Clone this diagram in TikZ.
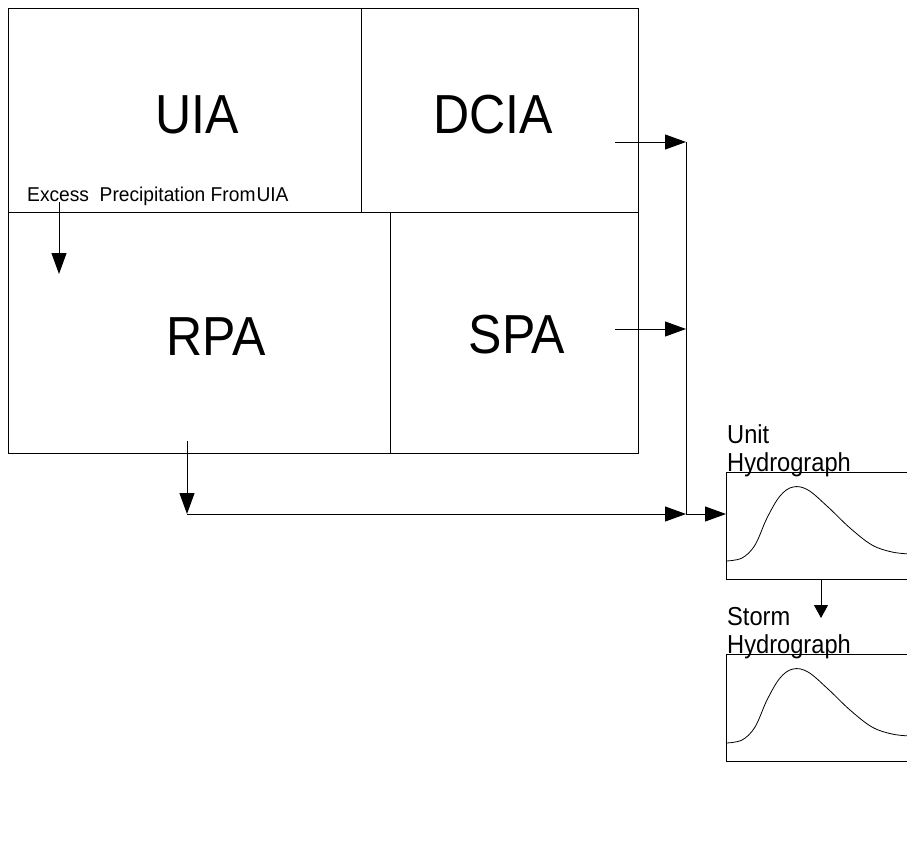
\documentclass[tikz,border=0pt]{standalone}
\usepackage{fontspec}
\setmainfont{Liberation Sans}[FakeStretch=0.96]
\newfontfamily\condfont{Liberation Sans}[FakeStretch=0.91]
\usetikzlibrary{arrows.meta}
\begin{document}
\begin{tikzpicture}[x=1pt,y=-1pt,
  frameline/.style={draw=black, line width=0.9pt},
  flow/.style={draw=black, line width=0.9pt, -{Triangle[length=21pt,width=15pt]}},
  shortflow/.style={draw=black, line width=0.9pt, -{Triangle[length=13pt,width=14pt]}},
  bigtxt/.style={inner sep=0pt, anchor=base, font=\condfont\fontsize{55}{60}\selectfont},
  smalltxt/.style={inner sep=0pt, anchor=base west, font=\fontsize{20}{23}\selectfont},
  hydtxt/.style={inner sep=0pt, anchor=base west, font=\condfont\fontsize{26}{29}\selectfont},
  curve/.style={draw=black, line width=0.8pt}
]
\useasboundingbox (0,0) rectangle (907,843);

% area frame
\draw[frameline] (8,8) rectangle (638,453);
\draw[frameline] (8,212) -- (638,212);
\draw[frameline] (361,8) -- (361,212);
\draw[frameline] (390,212) -- (390,453);

% area labels
\node[bigtxt] (uia) at (197,133) {UIA};
\node[bigtxt] (dcia) at (493,133) {DCIA};
\node[bigtxt] (rpa) at (216,355) {RPA};
\node[bigtxt] (spa) at (517,353) {SPA};
\node[smalltxt] (excess) at (27,201) {Excess\ \ Precipitation From\kern1pt UIA};

% connector points
\coordinate (exS) at (59,202);
\coordinate (exE) at (59,274);
\coordinate (dciaS) at (615,142);
\coordinate (dciaE) at (686,142);
\coordinate (spaS) at (615,329);
\coordinate (spaE) at (686,329);
\coordinate (rpaS) at (187,441);
\coordinate (rpaC) at (187,514);
\coordinate (joint) at (686,514);
\coordinate (unitIn) at (726,514);
\coordinate (unitOut) at (821,579);
\coordinate (stormIn) at (821,618);

\draw[flow] (exS) -- (exE);
\draw[flow] (dciaS) -- (dciaE);
\draw[flow] (spaS) -- (spaE);
\draw[frameline] (dciaE) -- (joint);
\draw[flow] (rpaS) -- (rpaC);
\draw[flow] (rpaC) -- (joint);
\draw[flow] (joint) -- (unitIn);
\draw[shortflow] (unitOut) -- (stormIn);

% unit hydrograph
\draw[frameline] (910,472) -- (726,472) -- (726,579) -- (910,579);
\node[hydtxt] (unitA) at (727,443) {Unit};
\node[hydtxt] (unitB) at (727,471) {Hydrograph};
\draw[curve] plot[smooth, tension=0.6] coordinates {(726,561) (742,558) (755,545) (767,518) (780,496) (793,487) (808,490) (828,507) (850,528) (872,545) (892,552) (910,554)};

% storm hydrograph
\draw[frameline] (910,654) -- (726,654) -- (726,761) -- (910,761);
\node[hydtxt] (stormA) at (727,625) {Storm};
\node[hydtxt] (stormB) at (727,653) {Hydrograph};
\draw[curve] plot[smooth, tension=0.6] coordinates {(726,743) (742,740) (755,727) (767,700) (780,678) (793,669) (808,672) (828,689) (850,710) (872,727) (892,734) (910,736)};
\end{tikzpicture}
\end{document}
